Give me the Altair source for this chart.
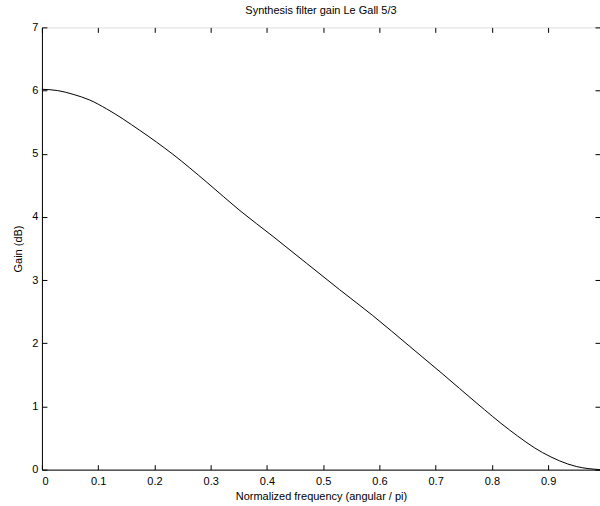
import altair as alt
import pandas as pd

freq = [0.0, 0.028, 0.0556, 0.085, 0.115, 0.174, 0.233, 0.293, 0.352, 0.411,
        0.470, 0.529, 0.588, 0.654, 0.713, 0.772, 0.831, 0.890, 0.950, 0.9922]
gain = [6.02, 6.00, 5.94, 5.85, 5.71, 5.37, 4.99, 4.55, 4.10, 3.69,
        3.27, 2.85, 2.44, 1.95, 1.51, 1.06, 0.63, 0.27, 0.05, 0.0]
x_ticks = [0, 0.1, 0.2, 0.3, 0.4, 0.5, 0.6, 0.7, 0.8, 0.9]
y_ticks = [0, 1, 2, 3, 4, 5, 6, 7]

df = pd.DataFrame({"f": freq, "g": gain})

W, H = 559, 443
FONT = "Liberation Sans"
xs = alt.Scale(domain=[0, 0.9922], nice=False, zero=False)
ys = alt.Scale(domain=[0, 7], nice=False)

def tick_axis(orient, offset):
    return alt.Axis(orient=orient, offset=offset, values=x_ticks if orient in ("top", "bottom") else y_ticks,
                    labels=False, domain=False, ticks=True, tickSize=5, tickColor="black",
                    tickWidth=1, grid=False, title=None)

main = alt.Chart(df).mark_line(color="black", strokeWidth=1, interpolate="monotone").encode(
    x=alt.X("f:Q", scale=xs, axis=alt.Axis(
        orient="bottom", values=x_ticks, title="Normalized frequency (angular / pi)",
        ticks=False, tickSize=0, labelPadding=6, domain=True, domainColor="black",
        grid=False, format="~g", labelFont=FONT, labelFontSize=11, labelColor="black",
        titleFont=FONT, titleFontSize=11, titleFontWeight="normal", titleColor="black",
        titlePadding=4)),
    y=alt.Y("g:Q", scale=ys, axis=alt.Axis(
        orient="left", values=y_ticks, title="Gain (dB)",
        ticks=False, tickSize=0, labelPadding=4, domain=True, domainColor="black",
        grid=False, labelFont=FONT, labelFontSize=11, labelColor="black",
        titleFont=FONT, titleFontSize=11, titleFontWeight="normal", titleColor="black",
        titlePadding=8)),
)

inner1 = alt.Chart(df).mark_line(strokeOpacity=0).encode(
    x=alt.X("f:Q", scale=xs, axis=tick_axis("top", -H)),
    y=alt.Y("g:Q", scale=ys, axis=tick_axis("right", -W)),
)
inner2 = alt.Chart(df).mark_line(strokeOpacity=0).encode(
    x=alt.X("f:Q", scale=xs, axis=tick_axis("bottom", -H)),
    y=alt.Y("g:Q", scale=ys, axis=tick_axis("left", -W)),
)

chart = alt.layer(main, inner1, inner2).resolve_axis(
    x="independent", y="independent"
).properties(
    width=W, height=H,
    title=alt.TitleParams("Synthesis filter gain Le Gall 5/3", font=FONT, fontSize=11,
                          fontWeight="normal", color="black", anchor="middle", offset=5),
    padding={"left": 42, "top": 27, "right": 0, "bottom": 36},
    autosize=alt.AutoSizeParams(type="none"),
).configure_view(stroke="black", strokeWidth=1).configure(background="white")

chart.save("out.html", embed_options={"renderer": "svg", "actions": False})
